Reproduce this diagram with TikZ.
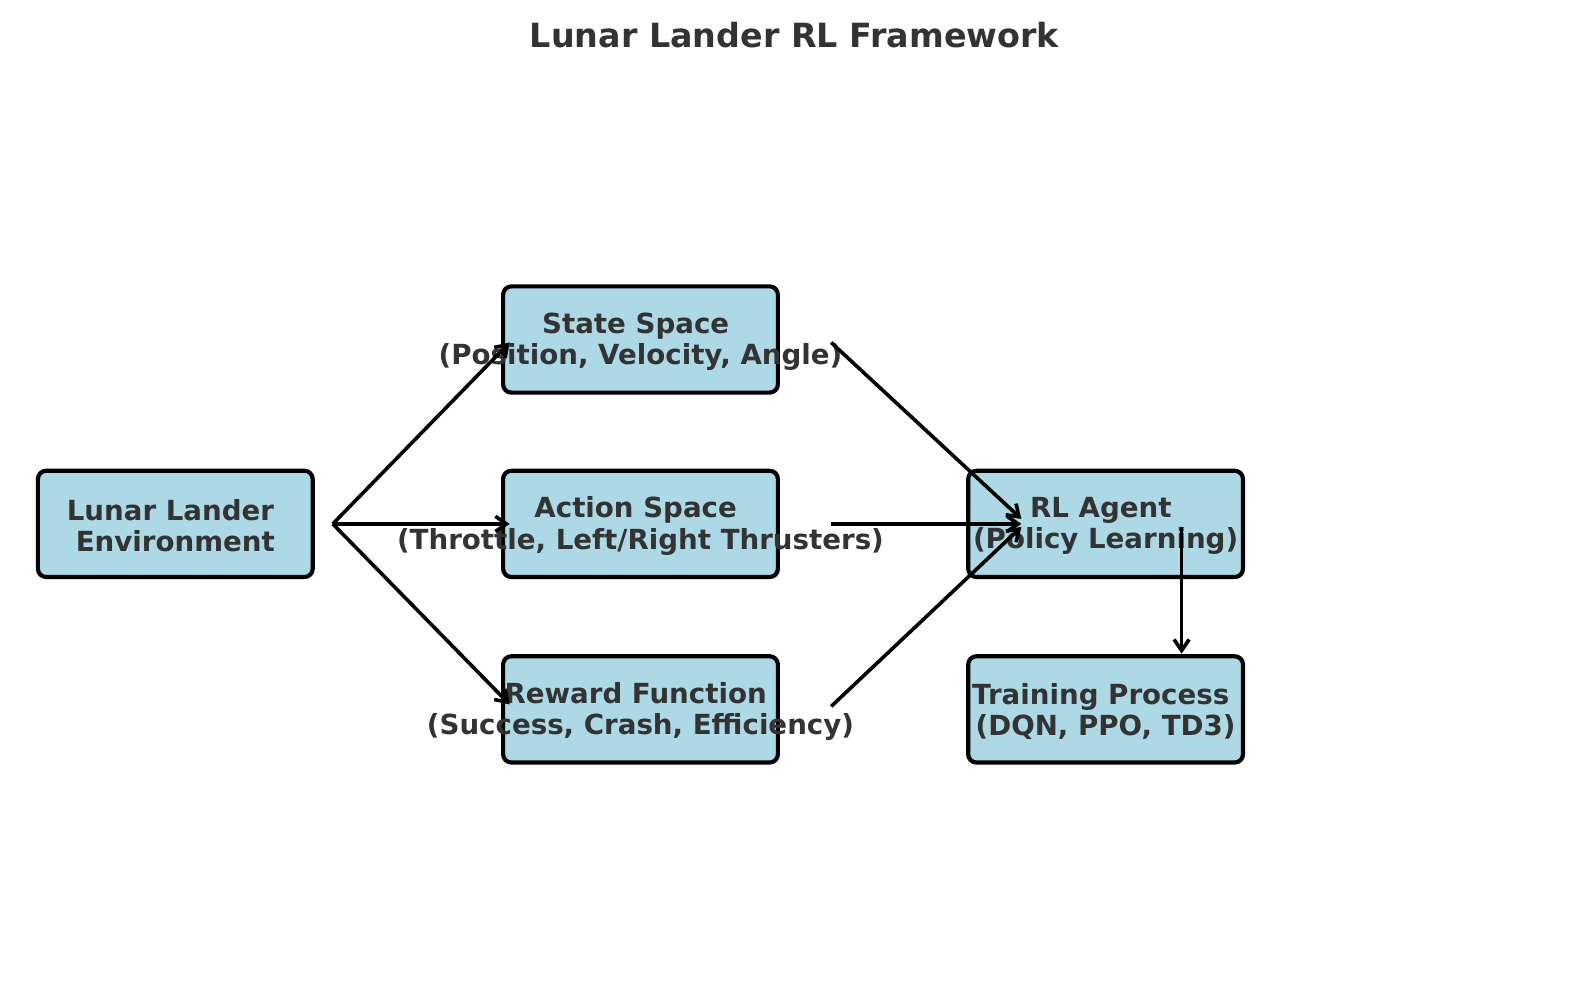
\documentclass[tikz,border=0pt]{standalone}
\usepackage{fontspec}
\setmainfont{DejaVu Sans}
\usepackage{tikz}
\usetikzlibrary{arrows.meta,calc}
\definecolor{boxblue}{HTML}{ADD8E6}
\definecolor{textgray}{HTML}{333333}
\tikzstyle{arrow} = [line width=2.6pt,-{Straight Barb[length=8pt,width=11pt]}]

\begin{document}
\begin{tikzpicture}[x=0.254mm, y=0.254mm,
    box/.style={draw, line width=3pt, rounded corners=6pt, fill=boxblue,
      minimum width=69.8mm, minimum height=27mm, inner sep=0pt,
      label={[text=textgray, font=\bfseries\fontsize{20}{22.6}\selectfont, align=center, inner sep=0pt, yshift=-0.5mm]center:#1}}]
          \useasboundingbox (0,0) rectangle (1589,1006);

          % Title
          \node[text=textgray, font=\bfseries\fontsize{24.1}{28}\selectfont] (title) at (794.5,970.5) {Lunar Lander RL Framework};

          % Node positions
          \node[box={Lunar Lander\kern0.35em\\Environment}] (env) at (175.3,482.1) {};
          \node[box={State Space\kern0.35em\\(Position, Velocity, Angle)}] (state) at (640.5,666.5) {};
          \node[box={Action Space\kern0.35em\\(Throttle, Left/Right Thrusters)}] (action) at (640.5,482.1) {};
          \node[box={Reward Function\kern0.35em\\(Success, Crash, Efficiency)}] (reward) at (640.5,296.6) {};
          \node[box={RL Agent\kern0.35em\\(Policy Learning)}] (agent) at (1105.6,482.1) {};
          \node[box={Training Process\kern0.35em\\(DQN, PPO, TD3)}] (training) at (1105.6,296.6) {};

          % Edges
          \draw[arrow] ($(env.east)+(18,0)$) -- ($(state.west)+(8.6,-3)$);
          \draw[arrow] ($(env.east)+(18,0)$) -- ($(action.west)+(8.6,0)$);
          \draw[arrow] ($(env.east)+(18,0)$) -- ($(reward.west)+(8.6,5)$);
          \draw[arrow] ($(state.east)+(51.2,-3)$) -- ($(agent.west)+(55.2,5)$);
          \draw[arrow] ($(action.east)+(51.2,0)$) -- ($(agent.west)+(55.2,0)$);
          \draw[arrow] ($(reward.east)+(51.2,3)$) -- ($(agent.west)+(55.2,-3)$);
          \draw[arrow] ($(agent.center)+(76,-3)$) -- ($(training.north)+(76,0.5)$);

        \end{tikzpicture}
\end{document}
